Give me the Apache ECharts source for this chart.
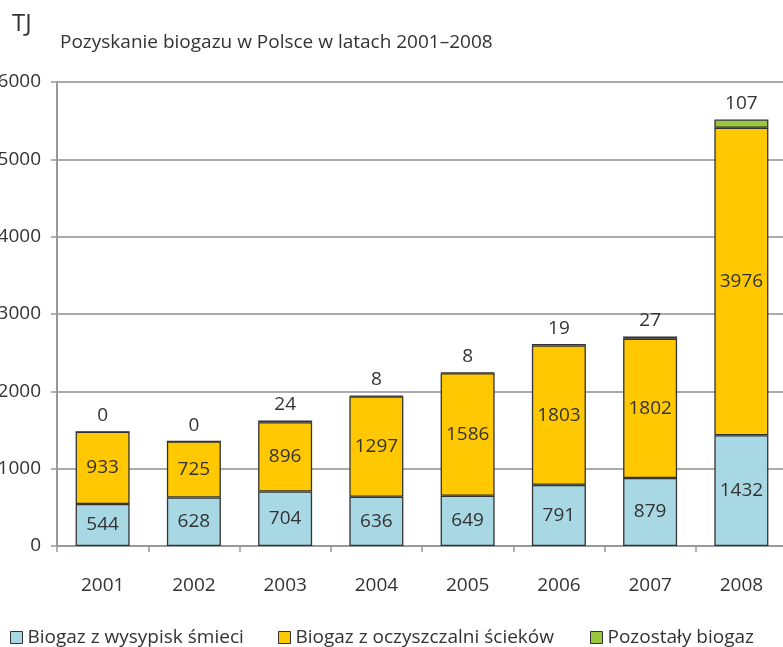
<!DOCTYPE html>
<html>
<head>
<meta charset="utf-8">
<script src="https://cdn.jsdelivr.net/npm/echarts@6/dist/echarts.min.js"></script>
<style>
  html, body { margin: 0; padding: 0; background: #fff; }
  #chart { width: 783px; height: 647px; }
</style>
</head>
<body>
<div id="chart"></div>
<script>
// Biogas production in Poland, TJ
const years = ['2001', '2002', '2003', '2004', '2005', '2006', '2007', '2008'];
const landfill = [544, 628, 704, 636, 649, 791, 879, 1432];
const sewage = [933, 725, 896, 1297, 1586, 1803, 1802, 3976];
const other = [0, 0, 24, 8, 8, 19, 27, 107];

const seriesNames = ['Biogaz z wysypisk śmieci', 'Biogaz z oczyszczalni ścieków', 'Pozostały biogaz'];
const colors = ['#a8d8e3', '#ffc800', '#9bc83a'];

const FONT = 'Open Sans';
const TEXT = '#333';
const FS = 19;

const chart = echarts.init(document.getElementById('chart'), null, { renderer: 'canvas' });

function barSeries(name, data, color, labelPos) {
  return {
    name: name,
    type: 'bar',
    stack: 'total',
    data: data,
    barWidth: 54,
    itemStyle: { color: color, borderColor: '#333', borderWidth: 1.3 },
    label: {
      show: true,
      position: labelPos,
      distance: 6,
      color: TEXT,
      fontFamily: FONT,
      fontSize: FS
    }
  };
}

const legendBase = {
  orient: 'horizontal',
  top: 628,
  padding: 0,
  icon: 'rect',
  itemWidth: 12,
  itemHeight: 12,
  itemGap: 8,
  textStyle: { color: TEXT, fontFamily: FONT, fontSize: FS },
  itemStyle: { borderColor: '#333', borderWidth: 1 }
};

chart.setOption({
  animation: false,
  textStyle: { fontFamily: FONT },
  graphic: [
    { type: 'text', left: 12, top: 12, style: { text: 'TJ', fontFamily: FONT, fontSize: 24, fill: TEXT } },
    { type: 'text', left: 60, top: 33, style: { text: 'Pozyskanie biogazu w Polsce w latach 2001–2008', fontFamily: FONT, fontSize: FS, fill: TEXT } }
  ],
  legend: [
    Object.assign({}, legendBase, { left: 10, data: [seriesNames[0]] }),
    Object.assign({}, legendBase, { left: 278, data: [seriesNames[1]] }),
    Object.assign({}, legendBase, { left: 590, data: [seriesNames[2]] })
  ],
  grid: { left: 57, right: -4, top: 82, bottom: 101, containLabel: false, outerBoundsMode: 'none' },
  xAxis: {
    type: 'category',
    data: years,
    axisLine: { lineStyle: { color: '#999', width: 2 } },
    axisTick: { show: true, length: 6, lineStyle: { color: '#999', width: 1.5 } },
    axisLabel: { color: TEXT, fontFamily: FONT, fontSize: FS, margin: 30 }
  },
  yAxis: {
    type: 'value',
    min: 0,
    max: 6000,
    interval: 1000,
    axisLine: { show: true, lineStyle: { color: '#999', width: 2 } },
    axisTick: { show: true, length: 6, lineStyle: { color: '#999', width: 1.5 } },
    axisLabel: { color: TEXT, fontFamily: FONT, fontSize: FS, margin: 16, formatter: (v) => String(v) },
    splitLine: { lineStyle: { color: '#aaa', width: 2 } }
  },
  series: [
    barSeries(seriesNames[0], landfill, colors[0], 'inside'),
    barSeries(seriesNames[1], sewage, colors[1], 'inside'),
    barSeries(seriesNames[2], other, colors[2], 'top')
  ]
});
</script>
</body>
</html>
